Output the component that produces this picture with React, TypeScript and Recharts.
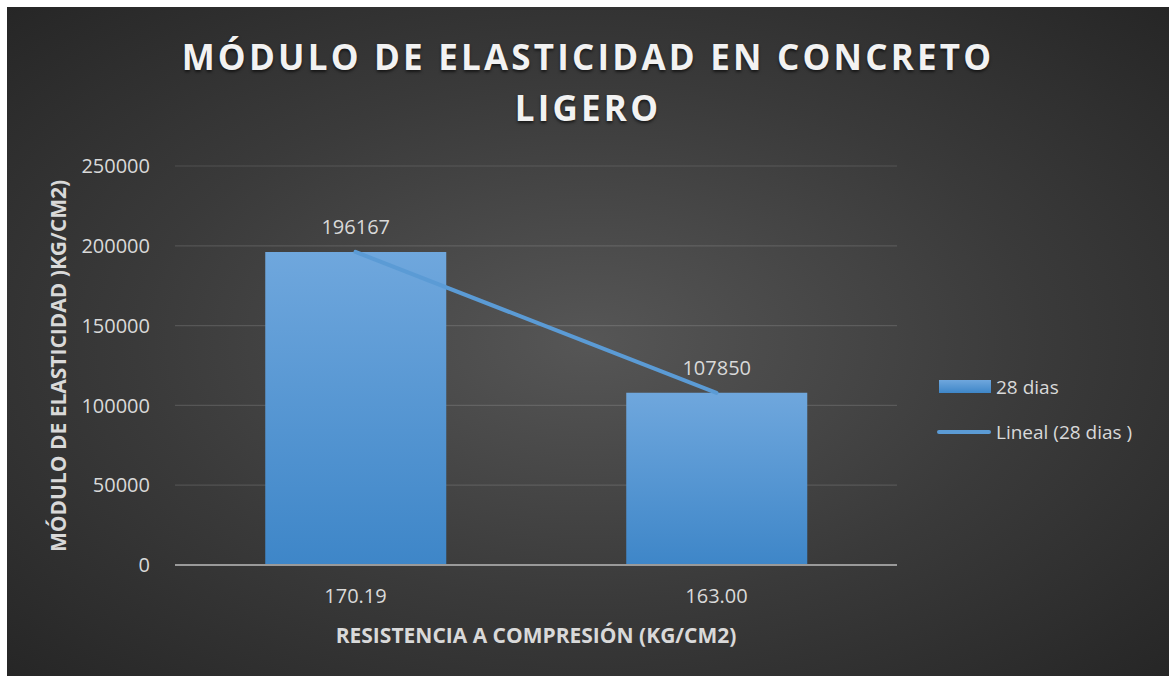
import { ComposedChart, Bar, Line, XAxis, YAxis, CartesianGrid, Legend, LabelList } from 'recharts';

const resistencia = ['170.19', '163.00'];
const modulo28 = [196167, 107850];
const yTicks = [0, 50000, 100000, 150000, 200000, 250000];

const data = resistencia.map((r, i) => ({ resistencia: r, dias28: modulo28[i], lineal: modulo28[i] }));

const FONT = '"Open Sans", sans-serif';
const W = 1162;
const H = 669;

function LegendContent(props: any) {
    const { payload } = props;
    return (
        <div style={{ fontFamily: FONT, fontSize: 19, color: '#d9d9d9' }}>
            {(payload || []).map((entry: any, i: number) => (
                <div key={i} style={{ display: 'flex', alignItems: 'center', height: 45 }}>
                    {entry.type === 'rect' ? (
                        <div style={{ width: 52, height: 13, marginLeft: 2, marginRight: 5, background: 'linear-gradient(#6fa7dd, #3e86c8)' }} />
                    ) : (
                        <div style={{ width: 54, height: 4, marginRight: 5, borderRadius: 2, background: '#5b9bd5' }} />
                    )}
                    <span>{entry.value}</span>
                </div>
            ))}
        </div>
    );
}

export default function App() {
    return (
        <div
            style={{
                position: 'absolute',
                left: 7,
                top: 7,
                width: W,
                height: H,
                background: 'radial-gradient(ellipse at 50% 50%, #565656 0%, #3a3a3a 55%, #262626 100%)',
                fontFamily: FONT,
            }}
        >
            {/* title */}
            <div
                style={{
                    position: 'absolute',
                    left: 0,
                    width: W,
                    top: 24,
                    textAlign: 'center',
                    color: '#f2f2f2',
                    fontSize: 35,
                    fontWeight: 700,
                    letterSpacing: 3.2,
                    lineHeight: '51px',
                    textShadow: '0 2px 3px rgba(0,0,0,0.6)',
                }}
            >
                MÓDULO DE ELASTICIDAD EN CONCRETO
                <br />
                LIGERO
            </div>
            <ComposedChart
                width={W}
                height={H}
                data={data}
                margin={{ top: 159, right: 42, left: 0, bottom: 0 }}
                barCategoryGap="25%"
            >
                <defs>
                    <linearGradient id="barGrad" x1="0" y1="0" x2="0" y2="1">
                        <stop offset="0%" stopColor="#6fa7dd" />
                        <stop offset="100%" stopColor="#3e86c8" />
                    </linearGradient>
                </defs>
                <CartesianGrid vertical={false} stroke="rgba(255,255,255,0.13)" strokeWidth={1.2} />
                <XAxis
                    dataKey="resistencia"
                    height={111}
                    axisLine={{ stroke: '#9a9a9a', strokeWidth: 2 }}
                    tickLine={false}
                    tickSize={0}
                    tickMargin={24}
                    tick={{ fill: '#d9d9d9', fontSize: 20, fontFamily: FONT }}
                />
                <YAxis
                    width={168}
                    domain={[0, 250000]}
                    ticks={yTicks}
                    axisLine={false}
                    tickLine={false}
                    tickSize={0}
                    tickMargin={25}
                    tick={{ fill: '#d9d9d9', fontSize: 20, fontFamily: FONT }}
                />
                <Legend
                    layout="vertical"
                    align="right"
                    verticalAlign="top"
                    content={<LegendContent />}
                    wrapperStyle={{ left: 930, top: 357, width: 230 }}
                />
                <Bar dataKey="dias28" name="28 dias" fill="url(#barGrad)" isAnimationActive={false} legendType="rect">
                    <LabelList dataKey="dias28" position="top" offset={18} fill="#d9d9d9" fontSize={20} fontFamily={FONT} />
                </Bar>
                <Line
                    type="linear"
                    dataKey="lineal"
                    name="Lineal (28 dias )"
                    stroke="#5b9bd5"
                    strokeWidth={4}
                    strokeLinecap="round"
                    dot={false}
                    activeDot={false}
                    legendType="line"
                    isAnimationActive={false}
                />
            </ComposedChart>
            {/* axis titles */}
            <div
                style={{
                    position: 'absolute',
                    left: 168,
                    width: 722,
                    top: 614,
                    textAlign: 'center',
                    color: '#d9d9d9',
                    fontSize: 21,
                    fontWeight: 700,
                    lineHeight: '28px',
                }}
            >
                RESISTENCIA A COMPRESIÓN (KG/CM2)
            </div>
            <div
                style={{
                    position: 'absolute',
                    left: 51 - 250,
                    top: 359 - 14,
                    width: 500,
                    textAlign: 'center',
                    color: '#d9d9d9',
                    fontSize: 21,
                    fontWeight: 700,
                    lineHeight: '28px',
                    transform: 'rotate(-90deg)',
                }}
            >
                MÓDULO DE ELASTICIDAD )KG/CM2)
            </div>
        </div>
    );
}
